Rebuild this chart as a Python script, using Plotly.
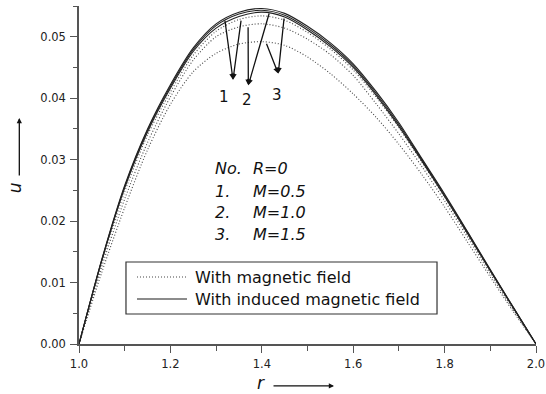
import numpy as np
import plotly.graph_objects as go

# radial coordinate between the two cylinders
r = [1.00, 1.05, 1.10, 1.15, 1.20, 1.25, 1.30, 1.35, 1.40, 1.45, 1.50,
     1.55, 1.60, 1.65, 1.70, 1.75, 1.80, 1.85, 1.90, 1.95, 2.00]

# velocity u, with magnetic field (dotted), R=0
u_mag_M05 = [0, 0.0133, 0.0248, 0.0340, 0.0410, 0.0470, 0.0509, 0.0528, 0.0534, 0.0527, 0.0507,
             0.0480, 0.0446, 0.0402, 0.0352, 0.0296, 0.0239, 0.0178, 0.0118, 0.0058, 0]
u_mag_M10 = [0, 0.0126, 0.0236, 0.0328, 0.0402, 0.0462, 0.0500, 0.0516, 0.0521, 0.0514, 0.0496,
             0.0471, 0.0437, 0.0391, 0.0342, 0.0289, 0.0233, 0.0174, 0.0114, 0.0056, 0]
u_mag_M15 = [0, 0.0117, 0.0222, 0.0316, 0.0390, 0.0443, 0.0473, 0.0488, 0.0492, 0.0486, 0.0467,
             0.0440, 0.0407, 0.0369, 0.0325, 0.0276, 0.0223, 0.0166, 0.0109, 0.0053, 0]

# velocity u, with induced magnetic field (solid), R=0
u_ind_M05 = [0, 0.0138, 0.0258, 0.0350, 0.0422, 0.0482, 0.0521, 0.0540, 0.0546, 0.0538, 0.0517,
             0.0490, 0.0456, 0.0411, 0.0360, 0.0302, 0.0244, 0.0183, 0.0121, 0.0060, 0]
u_ind_M10 = [0, 0.0137, 0.0256, 0.0348, 0.0419, 0.0479, 0.0518, 0.0537, 0.0543, 0.0535, 0.0514,
             0.0487, 0.0453, 0.0408, 0.0357, 0.0300, 0.0242, 0.0182, 0.0120, 0.0060, 0]
u_ind_M15 = [0, 0.0136, 0.0254, 0.0345, 0.0416, 0.0476, 0.0514, 0.0533, 0.0540, 0.0532, 0.0511,
             0.0484, 0.0450, 0.0405, 0.0354, 0.0298, 0.0240, 0.0180, 0.0119, 0.0059, 0]

legend_names = ["With magnetic field", "With induced magnetic field"]
case_lines = [("No.", "R=0"), ("1.", "M=0.5"), ("2.", "M=1.0"), ("3.", "M=1.5")]
curve_labels = ["1", "2", "3"]

FONT = "DejaVu Sans"
AXIS_COLOR = "#555555"
MAG_STYLE = dict(color="#444444", width=1.1, dash="1px,2px")
IND_STYLE = dict(color="#222222", width=1.1)

fig = go.Figure()

mag_series = [u_mag_M05, u_mag_M10, u_mag_M15]
ind_series = [u_ind_M05, u_ind_M10, u_ind_M15]

for u in mag_series:
    fig.add_trace(go.Scatter(x=r, y=u, mode="lines", name=legend_names[0], showlegend=False,
                             line=dict(**MAG_STYLE, shape="spline", smoothing=0.8)))
for u in ind_series:
    fig.add_trace(go.Scatter(x=r, y=u, mode="lines", name=legend_names[1], showlegend=False,
                             line=dict(**IND_STYLE, shape="spline", smoothing=0.8)))

# arrows from each pair of curves down to its case number
def on_curve(series, rr):
    return float(np.interp(rr, r, series))

arrow_sets = [
    # (label position, arrow head, tails on the curves)
    ((1.317, 0.0402), (1.337, 0.0430), [(1.319, u_ind_M05), (1.355, u_mag_M05)]),
    ((1.368, 0.0397), (1.3705, 0.0421), [(1.370, u_mag_M10), (1.417, u_ind_M10)]),
    ((1.433, 0.0405), (1.436, 0.0440), [(1.409, u_mag_M15), (1.449, u_ind_M15)]),
]

annotations = []
for label, (lpos, head, tails) in zip(curve_labels, arrow_sets):
    for rr, series in tails:
        annotations.append(dict(
            x=head[0], y=head[1], xref="x", yref="y",
            ax=rr, ay=on_curve(series, rr), axref="x", ayref="y",
            text="", showarrow=True, arrowhead=2, arrowsize=0.9,
            arrowwidth=1.3, arrowcolor="#111111",
        ))
    annotations.append(dict(
        x=lpos[0], y=lpos[1], xref="x", yref="y", text=label, showarrow=False,
        font=dict(family=FONT, size=15, color="#111111"),
    ))

# case description block
row_y = [0.518, 0.450, 0.388, 0.325]
for (c1, c2), yy in zip(case_lines, row_y):
    annotations.append(dict(x=0.293, y=yy, xref="paper", yref="paper", xanchor="left",
                            yanchor="middle", text=f"<i>{c1}</i>", showarrow=False,
                            font=dict(family=FONT, size=16, color="#111111")))
    annotations.append(dict(x=0.376, y=yy, xref="paper", yref="paper", xanchor="left",
                            yanchor="middle", text=f"<i>{c2}</i>", showarrow=False,
                            font=dict(family=FONT, size=16, color="#111111")))

# axis titles with direction arrows
annotations += [
    dict(x=-0.166, y=0.4615, xref="paper", yref="paper", text="<i>u</i>", textangle=-90,
         showarrow=False, font=dict(family=FONT, size=17, color="#111111")),
    dict(x=-0.1306, y=0.6686, xref="paper", yref="paper", ax=0, ay=59, text="",
         showarrow=True, arrowhead=2, arrowsize=0.8, arrowwidth=1.3, arrowcolor="#111111"),
    dict(x=0.399, y=-0.152, xref="paper", yref="paper", text="<i>r</i>",
         showarrow=False, font=dict(family=FONT, size=17, color="#111111")),
    dict(x=0.558, y=-0.124, xref="paper", yref="paper", ax=-62, ay=0, text="",
         showarrow=True, arrowhead=2, arrowsize=0.8, arrowwidth=1.3, arrowcolor="#111111"),
]

# boxed key for the two field cases
LEG_X0, LEG_X1, LEG_Y0, LEG_Y1 = 0.1028, 0.7834, 0.0888, 0.2426
LEG_SAMPLE = (0.1269, 0.2363)
LEG_TEXT_X = 0.2495
LEG_ROWS = [0.1982, 0.1331]
shapes = [dict(type="rect", xref="paper", yref="paper", x0=LEG_X0, x1=LEG_X1, y0=LEG_Y0, y1=LEG_Y1,
               line=dict(color="#333333", width=1.2), fillcolor="white", layer="above")]
for name, style, yy in zip(legend_names, [MAG_STYLE, dict(color="#666666", width=1.4)], LEG_ROWS):
    shapes.append(dict(type="line", xref="paper", yref="paper", x0=LEG_SAMPLE[0], x1=LEG_SAMPLE[1],
                       y0=yy, y1=yy, line=style, layer="above"))
    annotations.append(dict(x=LEG_TEXT_X, y=yy, xref="paper", yref="paper", xanchor="left",
                            yanchor="middle", text=name, showarrow=False,
                            font=dict(family=FONT, size=16, color="#111111")))

axis_common = dict(
    showline=True, linecolor=AXIS_COLOR, linewidth=1.5, mirror=False,
    ticks="outside", tickcolor=AXIS_COLOR, tickwidth=1.3, ticklen=7,
    showgrid=False, zeroline=False, automargin=False,
    tickfont=dict(family=FONT, size=11.5, color="#222222"),
)

fig.update_layout(
    width=546, height=394,
    margin=dict(l=79, r=10, t=6, b=50),
    paper_bgcolor="white", plot_bgcolor="white",
    xaxis=dict(range=[1.0, 2.0], dtick=0.2, tick0=1.0, tickformat=".1f", ticklabelstandoff=1,
               minor=dict(dtick=0.1, ticks="outside", ticklen=5, tickcolor=AXIS_COLOR, tickwidth=1.2),
               **axis_common),
    yaxis=dict(range=[0, 0.055], dtick=0.01, tick0=0, tickformat=".2f", ticklabelstandoff=2,
               minor=dict(dtick=0.005, ticks="outside", ticklen=4, tickcolor=AXIS_COLOR, tickwidth=1.2),
               **axis_common),
    shapes=shapes,
    annotations=annotations,
    showlegend=False,
)

fig.write_html("out.html")
